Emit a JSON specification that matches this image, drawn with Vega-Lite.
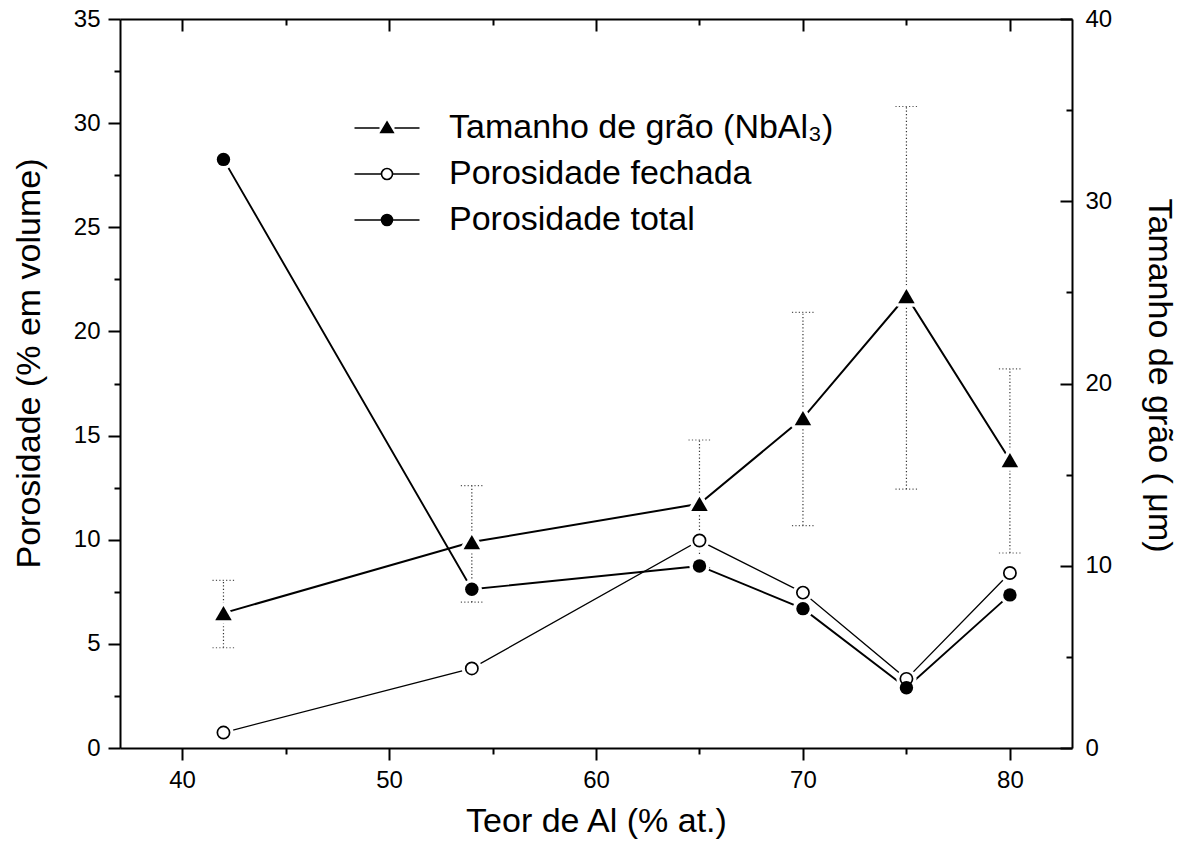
{
  "$schema": "https://vega.github.io/schema/vega-lite/v6.json",
  "width": 952,
  "height": 729,
  "autosize": {"type": "none"},
  "padding": {"left": 120, "top": 19, "right": 112, "bottom": 100},
  "background": "white",
  "config": {
    "view": {"stroke": null},
    "font": "Liberation Sans",
    "axis": {
      "labelFont": "Liberation Sans",
      "titleFont": "Liberation Sans",
      "labelFontSize": 24,
      "titleFontSize": 34,
      "titleFontWeight": "normal",
      "labelColor": "black",
      "titleColor": "black",
      "domainColor": "black",
      "domainWidth": 2,
      "tickColor": "black",
      "tickWidth": 2,
      "grid": false,
      "labelFlush": false,
      "labelOverlap": false
    },
    "legend": {
      "labelFont": "Liberation Sans",
      "labelFontSize": 34,
      "labelColor": "black",
      "labelLimit": 0
    }
  },
  "datasets": {
    "grao": [
      {"teor": 42, "tamanho": 7.4, "min": 5.5, "max": 9.2},
      {"teor": 54, "tamanho": 11.3, "min": 8.0, "max": 14.4},
      {"teor": 65, "tamanho": 13.4, "min": 9.9, "max": 16.9},
      {"teor": 70, "tamanho": 18.1, "min": 12.2, "max": 23.9},
      {"teor": 75, "tamanho": 24.8, "min": 14.2, "max": 35.2},
      {"teor": 80, "tamanho": 15.8, "min": 10.7, "max": 20.8}
    ],
    "porosidade": [
      {"teor": 42, "serie": "Porosidade fechada", "valor": 0.74},
      {"teor": 54, "serie": "Porosidade fechada", "valor": 3.82},
      {"teor": 65, "serie": "Porosidade fechada", "valor": 9.96},
      {"teor": 70, "serie": "Porosidade fechada", "valor": 7.46},
      {"teor": 75, "serie": "Porosidade fechada", "valor": 3.32},
      {"teor": 80, "serie": "Porosidade fechada", "valor": 8.40},
      {"teor": 42, "serie": "Porosidade total", "valor": 28.26},
      {"teor": 54, "serie": "Porosidade total", "valor": 7.62},
      {"teor": 65, "serie": "Porosidade total", "valor": 8.74},
      {"teor": 70, "serie": "Porosidade total", "valor": 6.69},
      {"teor": 75, "serie": "Porosidade total", "valor": 2.89},
      {"teor": 80, "serie": "Porosidade total", "valor": 7.35}
    ]
  },
  "layer": [
    {
      "data": {"name": "grao"},
      "encoding": {
        "x": {"field": "teor", "type": "quantitative", "scale": {"domain": [37, 83]}, "axis": null}
      },
      "layer": [
        {
          "mark": {"type": "rule", "color": "#333333", "strokeWidth": 1.2, "strokeDash": [1.2, 2.2]},
          "encoding": {
            "y": {"field": "min", "type": "quantitative", "scale": {"domain": [0, 40]}, "axis": null},
            "y2": {"field": "max"}
          }
        },
        {
          "mark": {"type": "rule", "color": "#555555", "strokeWidth": 1.2, "strokeDash": [1.2, 2.2], "xOffset": -11, "x2Offset": 11},
          "encoding": {
            "x2": {"field": "teor"},
            "y": {"field": "max", "type": "quantitative", "scale": {"domain": [0, 40]}, "axis": null}
          }
        },
        {
          "mark": {"type": "rule", "color": "#555555", "strokeWidth": 1.2, "strokeDash": [1.2, 2.2], "xOffset": -11, "x2Offset": 11},
          "encoding": {
            "x2": {"field": "teor"},
            "y": {"field": "min", "type": "quantitative", "scale": {"domain": [0, 40]}, "axis": null}
          }
        }
      ]
    },
    {
      "data": {"name": "porosidade"},
      "encoding": {
        "x": {
          "field": "teor", "type": "quantitative", "scale": {"domain": [37, 83]},
          "axis": {
            "orient": "bottom",
            "title": "Teor de Al (% at.)",
            "values": [40, 45, 50, 55, 60, 65, 70, 75, 80],
            "labelExpr": "datum.value % 10 === 0 ? datum.label : ''",
            "tickSize": {"expr": "datum.value % 10 === 0 ? 12 : 6"},
            "labelPadding": 8,
            "titlePadding": 12
          }
        },
        "y": {
          "field": "valor", "type": "quantitative", "scale": {"domain": [0, 35]},
          "axis": {
            "orient": "left",
            "title": "Porosidade (% em volume)",
            "values": [0, 2.5, 5, 7.5, 10, 12.5, 15, 17.5, 20, 22.5, 25, 27.5, 30, 32.5, 35],
            "labelExpr": "datum.value % 5 === 0 ? datum.label : ''",
            "tickSize": {"expr": "datum.value % 5 === 0 ? 12 : 6"},
            "labelPadding": 8,
            "titlePadding": 27,
            "titleY": 344
          }
        }
      },
      "layer": [
        {
          "mark": {"type": "line", "color": "black"},
          "encoding": {
            "detail": {"field": "serie", "type": "nominal"},
            "strokeWidth": {"field": "serie", "type": "nominal", "scale": {"domain": ["Porosidade fechada", "Porosidade total"], "range": [1.3, 1.9]}, "legend": null}
          }
        },
        {
          "mark": {"type": "point", "shape": "circle", "filled": true, "color": "white", "stroke": "white", "strokeWidth": 7, "size": 177, "opacity": 1}
        },
        {
          "transform": [{"filter": "datum.serie === 'Porosidade fechada'"}],
          "mark": {"type": "point", "shape": "circle", "fill": "white", "stroke": "black", "strokeWidth": 1.7, "size": 150, "opacity": 1}
        },
        {
          "transform": [{"filter": "datum.serie === 'Porosidade total'"}],
          "mark": {"type": "point", "shape": "circle", "filled": true, "color": "black", "size": 180, "opacity": 1}
        },
        {
          "transform": [{"filter": "false"}],
          "mark": {"type": "point", "strokeWidth": 1.6, "opacity": 1},
          "encoding": {
            "shape": {
              "field": "serie", "type": "nominal",
              "scale": {
                "domain": ["Tamanho de grão (NbAl₃)", "Porosidade fechada", "Porosidade total"],
                "range": [
                  "M-3.25,0H-0.75M0.75,0H3.25M0,-0.6L0.62,0.45L-0.62,0.45Z",
                  "M-3.25,0H-0.55M0.55,0H3.25M0.55,0A0.55,0.55,0,1,1,-0.55,0A0.55,0.55,0,1,1,0.55,0Z",
                  "M-3.25,0H-0.55M0.55,0H3.25M0.55,0A0.55,0.55,0,1,1,-0.55,0A0.55,0.55,0,1,1,0.55,0Z"
                ]
              },
              "legend": {
                "title": null,
                "orient": "none",
                "legendX": 250,
                "legendY": 92,
                "padding": 0,
                "symbolSize": 400,
                "symbolStrokeWidth": 1.6,
                "symbolOpacity": 1,
                "labelOffset": 45,
                "rowPadding": 12
              }
            },
            "fill": {
              "field": "serie", "type": "nominal",
              "scale": {
                "domain": ["Tamanho de grão (NbAl₃)", "Porosidade fechada", "Porosidade total"],
                "range": ["black", "white", "black"]
              },
              "legend": {
                "title": null,
                "orient": "none",
                "legendX": 250,
                "legendY": 92,
                "padding": 0,
                "symbolSize": 400,
                "symbolStrokeWidth": 1.6,
                "symbolOpacity": 1,
                "labelOffset": 45,
                "rowPadding": 12
              }
            },
            "stroke": {
              "field": "serie", "type": "nominal",
              "scale": {
                "domain": ["Tamanho de grão (NbAl₃)", "Porosidade fechada", "Porosidade total"],
                "range": ["black", "black", "black"]
              },
              "legend": {
                "title": null,
                "orient": "none",
                "legendX": 250,
                "legendY": 92,
                "padding": 0,
                "symbolSize": 400,
                "symbolStrokeWidth": 1.6,
                "symbolOpacity": 1,
                "labelOffset": 45,
                "rowPadding": 12
              }
            }
          }
        }
      ]
    },
    {
      "data": {"name": "grao"},
      "encoding": {
        "x": {
          "field": "teor", "type": "quantitative", "scale": {"domain": [37, 83]},
          "axis": {
            "orient": "top",
            "title": null,
            "labels": false,
            "values": [40, 45, 50, 55, 60, 65, 70, 75, 80],
            "tickSize": {"expr": "datum.value % 10 === 0 ? -12 : -6"}
          }
        },
        "y": {
          "field": "tamanho", "type": "quantitative", "scale": {"domain": [0, 40]},
          "axis": {
            "orient": "right",
            "title": "Tamanho de grão ( μm)",
            "titleAngle": 90,
            "values": [0, 5, 10, 15, 20, 25, 30, 35, 40],
            "labelExpr": "datum.value % 10 === 0 ? datum.label : ''",
            "tickSize": {"expr": "datum.value % 10 === 0 ? -12 : -6"},
            "labelPadding": 25,
            "titlePadding": 30,
            "titleY": 356
          }
        }
      },
      "layer": [
        {
          "mark": {"type": "line", "color": "black", "strokeWidth": 2}
        },
        {
          "mark": {"type": "point", "shape": "triangle-up", "filled": true, "color": "white", "stroke": "white", "strokeWidth": 7, "strokeJoin": "round", "size": 272, "opacity": 1}
        },
        {
          "mark": {"type": "point", "shape": "triangle-up", "filled": true, "color": "black", "size": 272, "opacity": 1}
        }
      ]
    }
  ],
  "resolve": {
    "scale": {"y": "independent"},
    "axis": {"x": "independent", "y": "independent"}
  }
}
